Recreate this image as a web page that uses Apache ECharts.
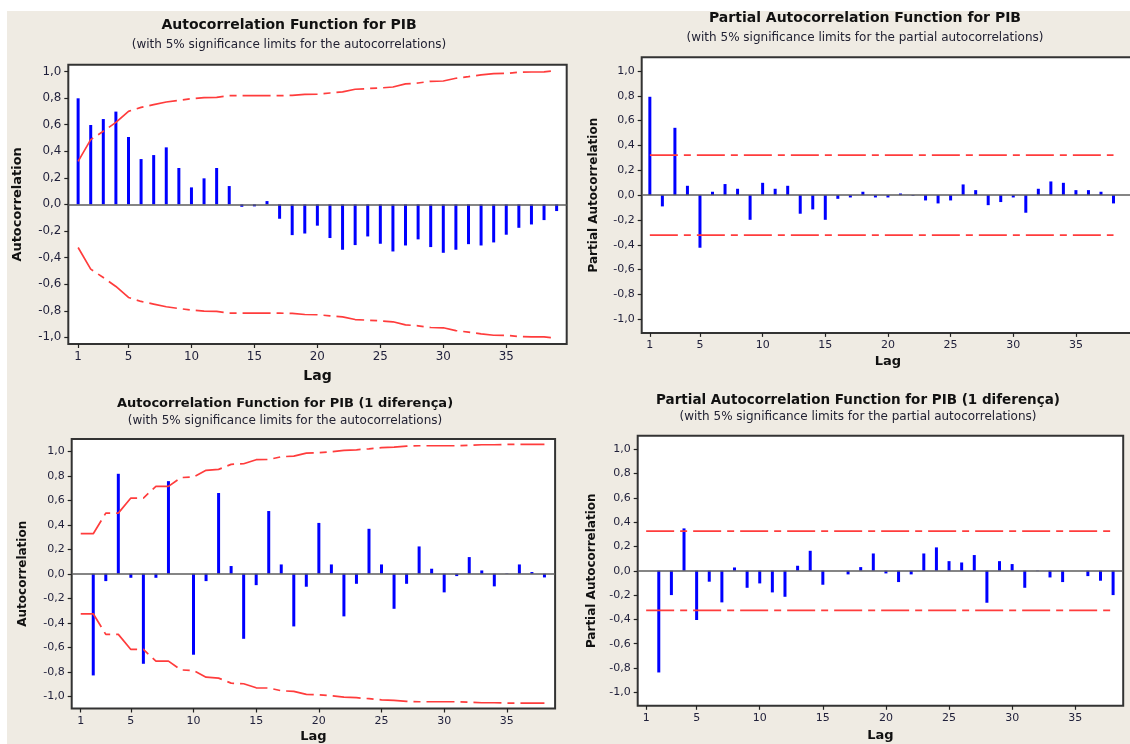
<!DOCTYPE html>
<html>
<head>
<meta charset="utf-8">
<title>ACF / PACF PIB</title>
<script src="https://cdn.jsdelivr.net/npm/echarts@6/dist/echarts.min.js"></script>
<style>
  html, body { margin: 0; padding: 0; background: #ffffff; }
  #acfChart { width: 1130px; height: 744px; }
</style>
</head>
<body>
<div id="acfChart"></div>
<script>
// values (lag = position + 1)
const acfPib = [0.798, 0.597, 0.642, 0.698, 0.507, 0.341, 0.371, 0.429, 0.274, 0.128,
  0.196, 0.274, 0.138, -0.018, -0.015, 0.025, -0.108, -0.231, -0.219, -0.16,
  -0.253, -0.341, -0.306, -0.241, -0.296, -0.354, -0.309, -0.263, -0.321, -0.364,
  -0.341, -0.299, -0.309, -0.286, -0.228, -0.176, -0.151, -0.118, -0.05];
const acfPibLimit = [0.324, 0.487, 0.55, 0.617, 0.70, 0.73, 0.75, 0.77, 0.783, 0.795,
  0.803, 0.805, 0.818, 0.818, 0.818, 0.818, 0.818, 0.82, 0.828, 0.83,
  0.838, 0.846, 0.866, 0.871, 0.876, 0.883, 0.906, 0.913, 0.926, 0.928,
  0.949, 0.961, 0.974, 0.984, 0.985, 0.994, 0.996, 0.997, 1.006];

const pacfPib = [0.792, -0.091, 0.542, 0.075, -0.424, 0.027, 0.089, 0.051, -0.199, 0.099,
  0.051, 0.075, -0.15, -0.115, -0.199, -0.03, -0.019, 0.027, -0.019, -0.019,
  0.013, -0.005, -0.043, -0.067, -0.043, 0.086, 0.04, -0.081, -0.056, -0.019,
  -0.142, 0.051, 0.11, 0.099, 0.04, 0.04, 0.027, -0.067];
const pacfPibLimit = [0.322, 0.322]; // lag 1 .. lag 38

const acfDif = [0.0, -0.83, -0.06, 0.816, -0.033, -0.735, -0.033, 0.756, 0.0, -0.661,
  -0.06, 0.659, 0.063, -0.531, -0.093, 0.512, 0.076, -0.43, -0.106, 0.415,
  0.076, -0.348, -0.082, 0.367, 0.076, -0.286, -0.082, 0.223, 0.041, -0.152,
  -0.019, 0.136, 0.027, -0.103, 0.003, 0.076, 0.014, -0.03];
const acfDifLimit = [0.327, 0.327, 0.495, 0.495, 0.618, 0.618, 0.713, 0.713, 0.785, 0.79,
  0.844, 0.852, 0.893, 0.898, 0.931, 0.933, 0.955, 0.96, 0.985, 0.988,
  0.996, 1.007, 1.012, 1.02, 1.029, 1.034, 1.042, 1.045, 1.045, 1.045,
  1.045, 1.048, 1.053, 1.053, 1.056, 1.056, 1.056, 1.056];

const pacfDif = [0.0, -0.836, -0.2, 0.348, -0.405, -0.09, -0.26, 0.027, -0.14, -0.104,
  -0.178, -0.214, 0.041, 0.164, -0.115, 0.0, -0.03, 0.03, 0.142, -0.022,
  -0.093, -0.03, 0.142, 0.192, 0.079, 0.068, 0.129, -0.263, 0.079, 0.055,
  -0.14, -0.003, -0.055, -0.093, 0.0, -0.044, -0.082, -0.2];
const pacfDifLimit = [0.325, 0.325]; // lag 1 .. lag 38

const yTicks = [-1, -0.8, -0.6, -0.4, -0.2, 0, 0.2, 0.4, 0.6, 0.8, 1];
const xTicks = [1, 5, 10, 15, 20, 25, 30, 35];

const FONT = "DejaVu Sans";
const BG = "#efebe3";
const BAR = "#0000ff";
const RED = "#ff3c3c";
const DASH = [28, 6, 7, 6];

const chartDom = document.getElementById("acfChart");
const myChart = echarts.init(chartDom, null, { renderer: "canvas" });

const toPairs = (vals) => vals.map((v, i) => [i + 1, v]);
const flatPairs = (lim, lastLag) => [[1, lim[0]], [lastLag, lim[1]]];
const neg = (pairs) => pairs.map((p) => [p[0], -p[1]]);

// one entry per panel: frame box + axis ranges
const panels = [
  { left: 68.3, top: 64.8, width: 498.4, height: 279.2, xMin: 0.22, xMax: 39.8, yLim: 1.05,
    yName: "Autocorrelation", yGap: 44, xGap: 25, scale: 1.08 },
  { left: 641.7, top: 57.3, width: 492.5, height: 275.6, xMin: 0.35, xMax: 39.65, yLim: 1.11,
    yName: "Partial Autocorrelation", yGap: 42, xGap: 22, scale: 1 },
  { left: 71.7, top: 439, width: 483.4, height: 269.5, xMin: 0.28, xMax: 38.85, yLim: 1.1,
    yName: "Autocorrelation", yGap: 43, xGap: 22, scale: 1 },
  { left: 637.7, top: 435.7, width: 485.5, height: 270.1, xMin: 0.33, xMax: 38.8, yLim: 1.11,
    yName: "Partial Autocorrelation", yGap: 40, xGap: 23, scale: 1 },
];

const titles = [
  { text: "Autocorrelation Function for PIB",
    sub: "(with 5% significance limits for the autocorrelations)", x: 289, y: 17, size: 14, gap: 5 },
  { text: "Partial Autocorrelation Function for PIB",
    sub: "(with 5% significance limits for the partial autocorrelations)", x: 865, y: 10, size: 14, gap: 5 },
  { text: "Autocorrelation Function for PIB (1 diferença)",
    sub: "(with 5% significance limits for the autocorrelations)", x: 285, y: 396, size: 13, gap: 2 },
  { text: "Partial Autocorrelation Function for PIB (1 diferença)",
    sub: "(with 5% significance limits for the partial autocorrelations)", x: 858, y: 392.5, size: 13.5, gap: 1 },
];

const fmt = (v) => v.toFixed(1).replace(".", ",");

const barSeries = (idx, values) => ({
  type: "bar",
  xAxisIndex: idx,
  yAxisIndex: idx,
  data: toPairs(values),
  barWidth: 3,
  itemStyle: { color: BAR },
  z: 2,
  silent: true,
  markLine: {
    silent: true,
    symbol: "none",
    label: { show: false },
    lineStyle: { color: "#5c5c5c", width: 1.5, type: "solid" },
    data: [{ yAxis: 0 }],
  },
});

const limitSeries = (idx, pairs) => ({
  type: "line",
  xAxisIndex: idx,
  yAxisIndex: idx,
  data: pairs,
  symbol: "none",
  silent: true,
  z: 3,
  lineStyle: { color: RED, width: 1.7, type: DASH },
});

const acfLimUp = toPairs(acfPibLimit);
const difLimUp = toPairs(acfDifLimit);
const pacfLimUp = flatPairs(pacfPibLimit, pacfPib.length);
const pdifLimUp = flatPairs(pacfDifLimit, pacfDif.length);

const option = {
  backgroundColor: BG,
  animation: false,
  graphic: [
    { type: "rect", shape: { x: 0, y: 0, width: 1130, height: 11 }, style: { fill: "#ffffff" }, silent: true },
    { type: "rect", shape: { x: 0, y: 0, width: 7, height: 744 }, style: { fill: "#ffffff" }, silent: true },
  ],
  title: titles.map((t) => ({
    text: t.text,
    subtext: t.sub,
    left: t.x,
    top: t.y,
    textAlign: "center",
    padding: 0,
    itemGap: t.gap,
    textStyle: { fontFamily: FONT, fontSize: t.size, fontWeight: "bold", color: "#111111", lineHeight: 16 },
    subtextStyle: { fontFamily: FONT, fontSize: 12, color: "#222233", lineHeight: 14 },
  })),
  grid: panels.map((p) => ({
    left: p.left,
    top: p.top,
    width: p.width,
    height: p.height,
    show: true,
    backgroundColor: "#ffffff",
    borderColor: "#333333",
    borderWidth: 2,
    outerBoundsMode: "none",
  })),
  xAxis: panels.map((p, i) => ({
    type: "value",
    gridIndex: i,
    min: p.xMin,
    max: p.xMax,
    name: "Lag",
    nameLocation: "middle",
    nameGap: p.xGap,
    nameTextStyle: { fontFamily: FONT, fontSize: 13 * p.scale, fontWeight: "bold", color: "#111111" },
    axisLine: { show: false, onZero: false },
    splitLine: { show: false },
    axisTick: { show: true, length: 4, customValues: xTicks, lineStyle: { color: "#222222", width: 1.2 } },
    axisLabel: { customValues: xTicks, fontFamily: FONT, fontSize: 11 * p.scale, color: "#1f1f3a", margin: 7 },
  })),
  yAxis: panels.map((p, i) => ({
    type: "value",
    gridIndex: i,
    min: -p.yLim,
    max: p.yLim,
    name: p.yName,
    nameLocation: "middle",
    nameGap: p.yGap,
    nameTextStyle: { fontFamily: FONT, fontSize: 12 * p.scale, fontWeight: "bold", color: "#111111" },
    axisLine: { show: false, onZero: false },
    splitLine: { show: false },
    axisTick: { show: true, length: 4, customValues: yTicks, lineStyle: { color: "#222222", width: 1.2 } },
    axisLabel: { customValues: yTicks, formatter: fmt, fontFamily: FONT, fontSize: 11 * p.scale, color: "#1f1f3a", margin: 7 },
  })),
  series: [
    barSeries(0, acfPib),
    limitSeries(0, acfLimUp),
    limitSeries(0, neg(acfLimUp)),
    barSeries(1, pacfPib),
    limitSeries(1, pacfLimUp),
    limitSeries(1, neg(pacfLimUp)),
    barSeries(2, acfDif),
    limitSeries(2, difLimUp),
    limitSeries(2, neg(difLimUp)),
    barSeries(3, pacfDif),
    limitSeries(3, pdifLimUp),
    limitSeries(3, neg(pdifLimUp)),
  ],
};

option && myChart.setOption(option);
</script>
</body>
</html>
